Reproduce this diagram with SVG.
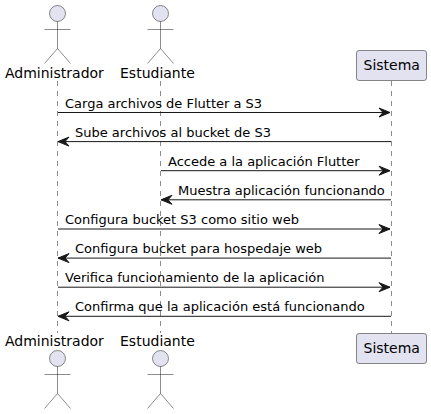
<svg xmlns="http://www.w3.org/2000/svg" width="431" height="414" viewBox="0 0 431 414">
<style>
text{font-family:"DejaVu Sans",sans-serif;fill:#000}
.n{font-size:14px}
.m{font-size:13px}
.life{stroke:#181818;stroke-width:.5;stroke-dasharray:5 5;fill:none}
.msg{stroke:#181818;stroke-width:1;fill:none}
.shape{fill:#E2E2F0;stroke:#181818;stroke-width:.5}
.stick{fill:none;stroke:#181818;stroke-width:.5}
</style>
<defs>
<marker id="head" markerUnits="userSpaceOnUse" markerWidth="14" markerHeight="12" refX="11.5" refY="5" viewBox="0 0 14 12" orient="auto" overflow="visible"><polygon points="0.5,0.5 11.5,5 0.5,9.5 4.5,5" fill="#181818" stroke="#181818"/></marker>
<g id="actor"><circle class="shape" cx="0" cy="0" r="8"/><path class="stick" d="M0,8V35M-13,16H13M0,35L-13,50M0,35L13,50"/></g>
</defs>
<g id="lifelines">
<path class="life" d="M57.5,81V333"/>
<path class="life" d="M160.5,81V333"/>
<path class="life" d="M391.5,81V333"/>
</g>
<g id="connectors">
<g><path class="msg" marker-end="url(#head)" d="M58,112.5H390"/><text class="m" x="65" y="107.5">Carga archivos de Flutter a S3</text></g>
<g><path class="msg" marker-end="url(#head)" d="M391,141.6H58"/><text class="m" x="75" y="136.6">Sube archivos al bucket de S3</text></g>
<g><path class="msg" marker-end="url(#head)" d="M161,170.7H390"/><text class="m" x="168" y="165.7">Accede a la aplicación Flutter</text></g>
<g><path class="msg" marker-end="url(#head)" d="M391,199.8H161"/><text class="m" x="178" y="194.8">Muestra aplicación funcionando</text></g>
<g><path class="msg" marker-end="url(#head)" d="M58,229H390"/><text class="m" x="65" y="224">Configura bucket S3 como sitio web</text></g>
<g><path class="msg" marker-end="url(#head)" d="M391,258.1H58"/><text class="m" x="75" y="253.1">Configura bucket para hospedaje web</text></g>
<g><path class="msg" marker-end="url(#head)" d="M58,287.2H390"/><text class="m" x="65" y="282.2">Verifica funcionamiento de la aplicación</text></g>
<g><path class="msg" marker-end="url(#head)" d="M391,316.3H58"/><text class="m" x="75" y="311.3">Confirma que la aplicación está funcionando</text></g>
</g>
<g id="administrador-top"><use href="#actor" x="57.5" y="13.5"/><text class="n" x="5" y="78">Administrador</text></g>
<g id="estudiante-top"><use href="#actor" x="160.5" y="13.5"/><text class="n" x="120" y="78">Estudiante</text></g>
<g id="sistema-top"><rect class="shape" x="356.5" y="50.5" width="70" height="30" rx="2.5"/><text class="n" x="363.5" y="70">Sistema</text></g>
<g id="administrador-bottom"><use href="#actor" x="57.5" y="358.5"/><text class="n" x="5" y="346">Administrador</text></g>
<g id="estudiante-bottom"><use href="#actor" x="160.5" y="358.5"/><text class="n" x="120" y="346">Estudiante</text></g>
<g id="sistema-bottom"><rect class="shape" x="356.5" y="333.5" width="70" height="30" rx="2.5"/><text class="n" x="363.5" y="353">Sistema</text></g>
</svg>
